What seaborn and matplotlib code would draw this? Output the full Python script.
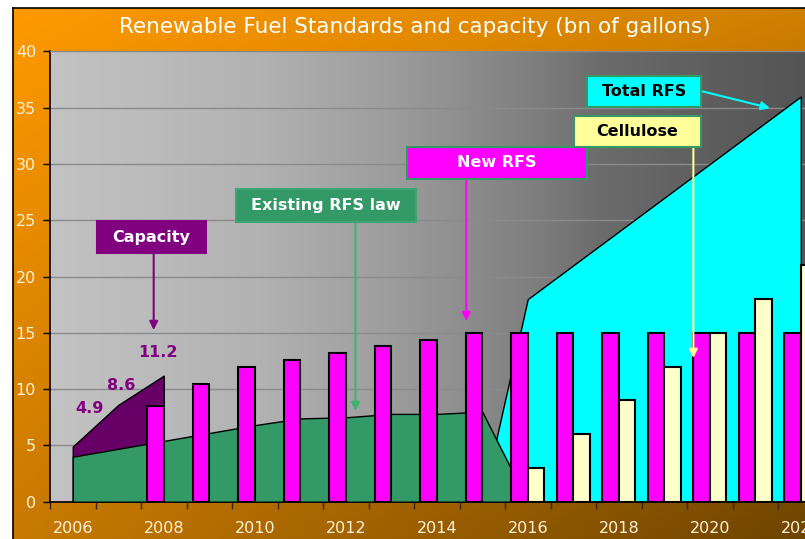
import numpy as np
import pandas as pd
import matplotlib
matplotlib.use("Agg")
import matplotlib.pyplot as plt
import seaborn as sns
from matplotlib.patches import Rectangle

# ---------------- data ----------------
years = list(range(2006, 2023))
year_labels = ["2006", "2008", "2010", "2012", "2014", "2016", "2018", "2020", "2022"]

capacity_years = [2006, 2007, 2008]
capacity = [4.9, 8.6, 11.2]

existing_years = list(range(2006, 2017))
existing_rfs = [4.0, 4.7, 5.4, 6.1, 6.8, 7.4, 7.5, 7.8, 7.8, 8.0, 0.0]

total_years = list(range(2015, 2023))
total_rfs = [0, 18, 21, 24, 27, 30, 33, 36]

new_rfs_years = list(range(2008, 2023))
new_rfs = [8.5, 10.5, 12.0, 12.6, 13.2, 13.8, 14.4, 15, 15, 15, 15, 15, 15, 15, 15]

cellulose_years = list(range(2016, 2023))
cellulose = [3, 6, 9, 12, 15, 18, 21]

title = "Renewable Fuel Standards and capacity (bn of gallons)"

# ---------------- figure ----------------
W, H = 805, 539
fig = plt.figure(figsize=(W / 100, H / 100), dpi=100)
fig.patch.set_facecolor("white")

# orange gradient background
bgax = fig.add_axes([12.5 / W, 0, 1 - 12.5 / W, 1 - 7.5 / H])
nx, ny = 200, 150
u = np.linspace(0, 1, nx)[None, :, None]
v = np.linspace(0, 1, ny)[:, None, None]
TL = np.array([255, 153, 0]) / 255
TR = np.array([208, 128, 0]) / 255
BL = np.array([200, 122, 0]) / 255
BR = np.array([110, 68, 0]) / 255
img = TL * (1 - u) * (1 - v) + TR * u * (1 - v) + BL * (1 - u) * v + BR * u * v
bgax.imshow(img, aspect="auto", extent=[0, 1, 0, 1], interpolation="bilinear")
bgax.set_xlim(0, 1)
bgax.set_ylim(0, 1)
bgax.set_xticks([])
bgax.set_yticks([])
for s in ["right", "bottom"]:
    bgax.spines[s].set_visible(False)
for s in ["left", "top"]:
    bgax.spines[s].set_color("black")
    bgax.spines[s].set_linewidth(1.2)

fig.text(415 / W, 1 - 27.5 / H, title, ha="center", va="center", color="white",
         fontsize=15.5)

# main axes
ax = fig.add_axes([50 / W, (H - 501.7) / H, 773.5 / W, (501.7 - 51.5) / H])
ax.patch.set_visible(False)

# gray gradient of plot area
gpx = np.array([50, 260, 400, 540, 600, 700, 823.5])
gval = np.array([195, 178, 155, 125, 108, 95, 82]) / 255
xs = np.linspace(50, 823.5, 400)
gv = np.interp(xs, gpx, gval)
gimg = np.repeat(gv[None, :, None], 3, axis=2)
ax.imshow(gimg, extent=[0, 1, 0, 1], transform=ax.transAxes, aspect="auto",
          zorder=0, interpolation="bilinear")

# bars via seaborn
df = pd.DataFrame({
    "year": new_rfs_years + cellulose_years,
    "value": new_rfs + cellulose,
    "series": ["New RFS"] * len(new_rfs) + ["Cellulose"] * len(cellulose),
})
sns.barplot(data=df, x="year", y="value", hue="series", order=years,
            hue_order=["New RFS", "Cellulose"],
            palette={"New RFS": "#FF00FF", "Cellulose": "#FFFFCC"},
            width=0.72, saturation=1, errorbar=None, edgecolor="black",
            linewidth=1.5, legend=False, ax=ax, zorder=4)

pos = {y: i for i, y in enumerate(years)}

def xpos(ys):
    return [pos[y] for y in ys]

ax.fill_between(xpos(total_years), 0, total_rfs, facecolor="#00FFFF",
                edgecolor="black", linewidth=1, zorder=1)
ax.fill_between(xpos(capacity_years), 0, capacity, facecolor="#660066",
                edgecolor="black", linewidth=1, zorder=2)
ax.fill_between(xpos(existing_years), 0, existing_rfs, facecolor="#339966",
                edgecolor="black", linewidth=1, zorder=3)

# capacity value labels
label_offsets = [(11.9, 27.1), (1.8, 13.8), (-4.1, 16.5)]
for yr, val, off in zip(capacity_years, capacity, label_offsets):
    ax.annotate(f"{val:.1f}", xy=(pos[yr], val), xytext=off, textcoords="offset points",
                ha="center", va="center", color="#800080", fontsize=11.5,
                fontweight="bold", zorder=8)

# axes styling
ax.set_xlim(-0.5, len(years) - 0.5)
ax.set_ylim(0, 40)
ax.set_xlabel("")
ax.set_ylabel("")
ax.set_axisbelow(True)
ax.yaxis.grid(True, color="#8a8a8a", linewidth=1)
ax.xaxis.grid(False)
ax.spines["right"].set_visible(False)
ax.spines["top"].set_color("#8a8a8a")
for s in ["left", "bottom"]:
    ax.spines[s].set_color("black")
    ax.spines[s].set_linewidth(1.2)

ax.set_yticks(range(0, 41, 5))
ax.tick_params(axis="y", length=5, width=1, color="black", labelcolor="#FFF2DA",
               labelsize=11.5, pad=5)
ax.set_xticks(np.arange(-0.5, len(years), 1))
ax.set_xticklabels([])
ax.tick_params(axis="x", which="major", length=5, width=1, color="#3a2400")
ax.set_xticks([pos[int(l)] for l in year_labels], minor=True)
ax.set_xticklabels(year_labels, minor=True)
ax.tick_params(axis="x", which="minor", length=0, labelcolor="#FFF2DA",
               labelsize=11.5, pad=14)

# annotation boxes: (text, x0, x1, y0, y1, face, edge, textcolor)
boxes = [
    ("Capacity", 0.533, 2.929, 22.07, 24.94, "#800080", "#800080", "white"),
    ("Existing RFS law", 3.581, 7.537, 24.82, 27.76, "#339966", "#3fa373", "white"),
    ("New RFS", 7.353, 11.296, 28.65, 31.54, "#FF00FF", "#339966", "white"),
    ("Total RFS", 11.296, 13.808, 35.04, 37.82, "#00FFFF", "#339966", "black"),
    ("Cellulose", 11.016, 13.808, 31.49, 34.27, "#FFFF99", "#339966", "black"),
]
for txt, x0, x1, y0, y1, fc, ec, tc in boxes:
    ax.add_patch(Rectangle((x0, y0), x1 - x0, y1 - y0, facecolor=fc, edgecolor=ec,
                           linewidth=1.5, zorder=9, clip_on=False))
    ax.text((x0 + x1) / 2, (y0 + y1) / 2, txt, ha="center", va="center", color=tc,
            fontsize=11.5, fontweight="bold", zorder=10)

arrows = [
    ((1.779, 22.07), (1.779, 15.25), "#800080"),
    ((6.214, 24.82), (6.214, 8.06), "#3CB371"),
    ((8.65, 28.65), (8.65, 16.05), "#FF00FF"),
    ((13.808, 36.49), (15.32, 34.98), "#00FFFF"),
    ((13.64, 31.49), (13.64, 12.77), "#FFFF99"),
]
for start, tip, c in arrows:
    ax.annotate("", xy=tip, xytext=start,
                arrowprops=dict(arrowstyle="-|>,head_length=0.5,head_width=0.25",
                                color=c, lw=1.5, shrinkA=0, shrinkB=0),
                zorder=8)

fig.savefig("out.png", dpi=100)
